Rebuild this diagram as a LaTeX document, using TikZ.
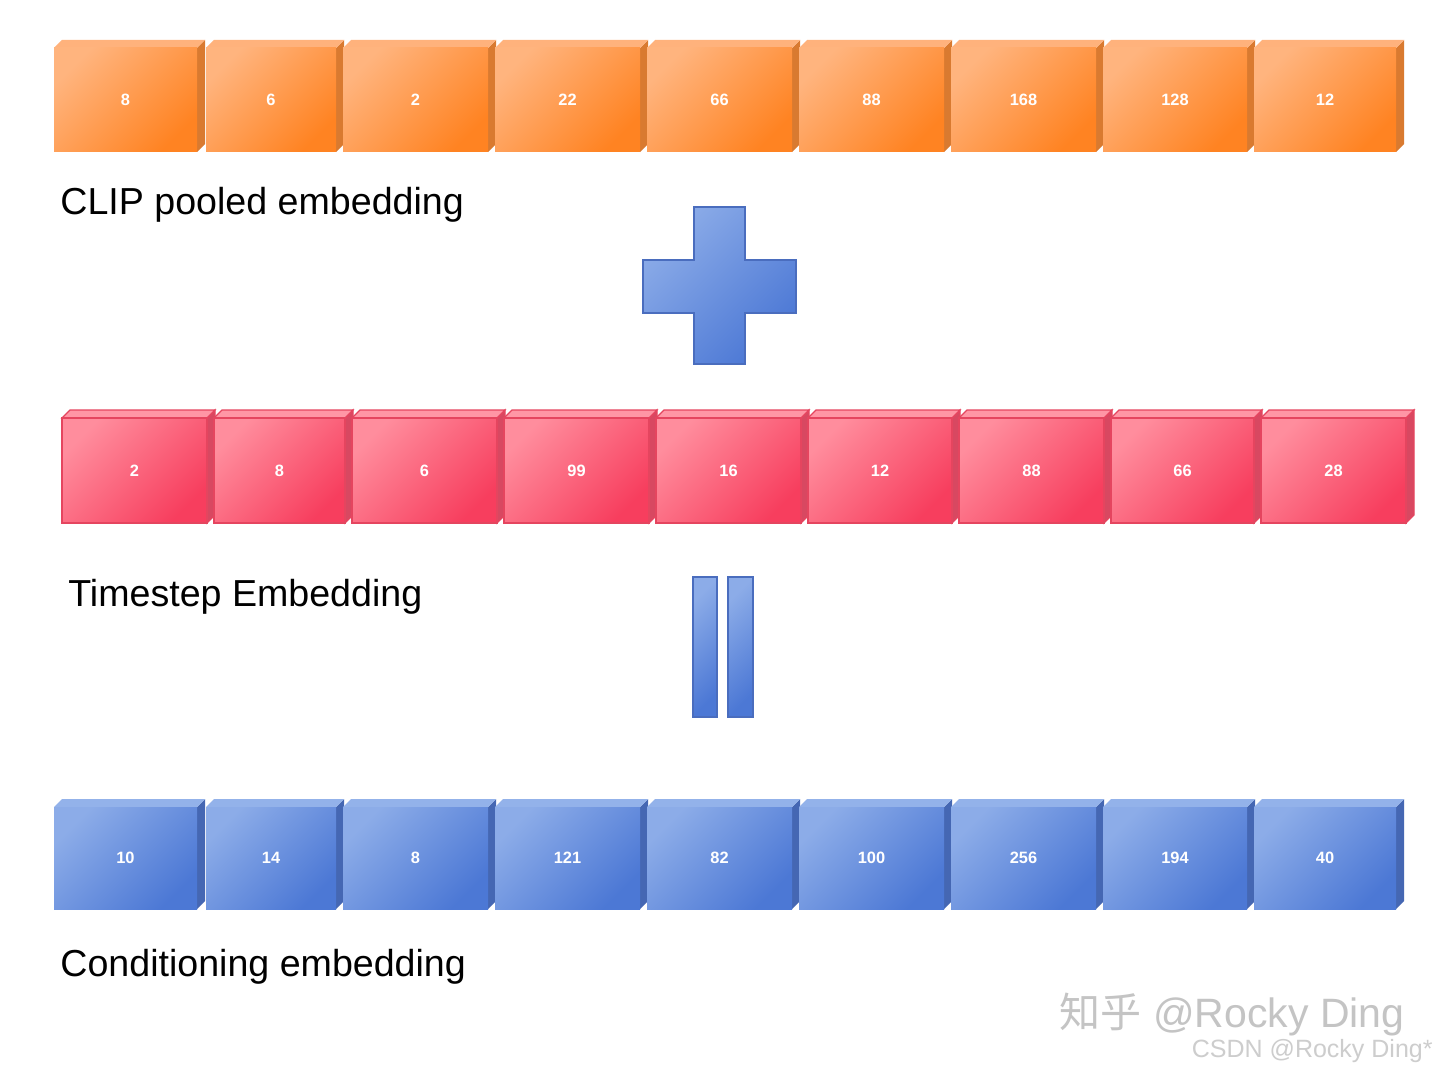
\documentclass[tikz,border=0pt]{standalone}
\usepackage{fontspec}
\setmainfont{Liberation Sans}
\newfontfamily\cjkfont{Noto Sans CJK SC}
\definecolor{orangeA}{HTML}{FFB47E}
\definecolor{orangeB}{HTML}{FF8322}
\definecolor{orangeTop}{HTML}{FFB27C}
\definecolor{orangeSide}{HTML}{D97A30}
\definecolor{redA}{HTML}{FF8D9D}
\definecolor{redB}{HTML}{F73E5E}
\definecolor{redTop}{HTML}{FF96A5}
\definecolor{redSide}{HTML}{D84861}
\definecolor{redLine}{HTML}{E5455F}
\definecolor{blueA}{HTML}{8CACE8}
\definecolor{blueB}{HTML}{4C78D5}
\definecolor{blueTop}{HTML}{93B2EA}
\definecolor{blueSide}{HTML}{4567B3}
\definecolor{blueLine}{HTML}{4A6DBE}
\definecolor{wmgray}{HTML}{C4C4C4}

\begin{document}
\begin{tikzpicture}[x=0.5pt, y=-0.5pt,
		every node/.style={font=\fontsize{8.2}{10}\selectfont\bfseries, color=white},
		face/.style={inner sep=0pt, outer sep=0pt},
		clipface/.style={face, top color=orangeA, bottom color=orangeB, shading angle=45, minimum height=52pt},
		timeface/.style={face, top color=redA, bottom color=redB, shading angle=45, draw=redLine, line width=0.8pt, minimum height=52.5pt},
		condface/.style={face, top color=blueA, bottom color=blueB, shading angle=45, minimum height=51pt},
		sign/.style={top color=blueA, bottom color=blueB, shading angle=45, draw=blueLine, line width=0.9pt},
		title/.style={anchor=base west, inner sep=0pt, color=black, font=\fontsize{18.8}{22}\selectfont},
		logobig/.style={anchor=base east, inner sep=0pt, color=wmgray, font=\fontsize{20.5}{24}\selectfont},
		logosmall/.style={anchor=base east, inner sep=0pt, color=wmgray!85, font=\fontsize{12.5}{15}\selectfont}
	]
	\useasboundingbox[fill=white] (0,0) rectangle (1440,1075);

	% CLIP pooled embedding
	\foreach \l/\r/\v [count=\i] in {54/197/8, 206/336/6, 343/488/2, 495/640/22, 647/792/66, 799/944/88, 951/1096/168, 1103/1247/128, 1254/1396/12}{
		\fill[orangeSide] (\r,48) -- (\r+8,40) -- (\r+8,144) -- (\r,152) -- cycle;
		\fill[orangeTop] (\l,48) -- (\l+8,40) -- (\r+8,40) -- (\r,48) -- cycle;
		\node[clipface, minimum width={(\r-\l)*0.5pt}] (clip\i) at ({(\l+\r)/2},100) {\v};
	}
	\node[title] (cliptitle) at (60,215) {CLIP pooled embedding};

	% plus
	\path[sign] (694,207) -- (745,207) -- (745,260) -- (796,260) -- (796,313) -- (745,313)
		-- (745,364) -- (694,364) -- (694,313) -- (643,313) -- (643,260) -- (694,260) -- cycle;

	% Timestep Embedding
	\foreach \l/\r/\v [count=\i] in {62/207/2, 214/345/8, 352/497/6, 504/649/99, 656/801/16, 808/952/12, 959/1104/88, 1111/1254/66, 1261/1406/28}{
		\filldraw[fill=redSide, draw=redLine, line width=0.6pt] (\r,418) -- (\r+8,410) -- (\r+8,515) -- (\r,523) -- cycle;
		\filldraw[fill=redTop, draw=redLine, line width=0.6pt] (\l,418) -- (\l+8,410) -- (\r+8,410) -- (\r,418) -- cycle;
		\node[timeface, minimum width={(\r-\l)*0.5pt}] (time\i) at ({(\l+\r)/2},470.5) {\v};
	}
	\node[title] (timetitle) at (68,606) {Timestep Embedding};

	% equals
	\path[sign] (693,577) rectangle (717,717);
	\path[sign] (728,577) rectangle (753,717);

	% Conditioning embedding
	\foreach \l/\r/\v [count=\i] in {54/197/10, 206/336/14, 343/488/8, 495/640/121, 647/792/82, 799/944/100, 951/1096/256, 1103/1247/194, 1254/1396/40}{
		\fill[blueSide] (\r,807) -- (\r+8,799) -- (\r+8,901) -- (\r,909) -- cycle;
		\fill[blueTop] (\l,807) -- (\l+8,799) -- (\r+8,799) -- (\r,807) -- cycle;
		\node[condface, minimum width={(\r-\l)*0.5pt}] (cond\i) at ({(\l+\r)/2},858) {\v};
	}
	\node[title] (condtitle) at (60,976) {Conditioning embedding};

	% watermark
	\node[logobig] (zhihu) at (1405,1027) {{\cjkfont 知乎} @Rocky Ding};
	\node[logosmall] (csdn) at (1433,1057) {CSDN @Rocky Ding*};
\end{tikzpicture}
\end{document}
